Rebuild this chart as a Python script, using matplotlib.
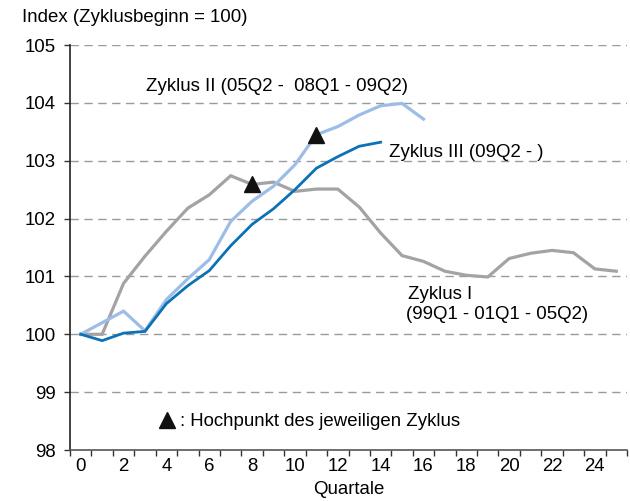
import matplotlib
matplotlib.use("Agg")
import matplotlib.pyplot as plt
import numpy as np

plt.rcParams['font.family'] = ['Liberation Sans', 'DejaVu Sans']
FS = 13.4

quartale = list(range(26))
zyklus1 = [100.0, 100.0, 100.88, 101.35, 101.78, 102.18, 102.41, 102.74, 102.59, 102.63,
           102.47, 102.51, 102.51, 102.20, 101.75, 101.36, 101.26, 101.09, 101.02, 100.99,
           101.31, 101.40, 101.45, 101.41, 101.13, 101.09]
zyklus2 = [100.0, 100.2, 100.40, 100.06, 100.60, 100.96, 101.29, 101.95, 102.30, 102.56,
           102.93, 103.45, 103.59, 103.79, 103.95, 103.99, 103.72]
zyklus3 = [100.0, 99.89, 100.02, 100.05, 100.53, 100.84, 101.10, 101.53, 101.90, 102.17,
           102.50, 102.87, 103.07, 103.25, 103.32]
peak_x = [8, 11]
peak_y = [zyklus1[8], zyklus2[11]]
xtick_labels = [str(v) for v in range(0, 25, 2)]
yticks = [98, 99, 100, 101, 102, 103, 104, 105]

fig = plt.figure(figsize=(6.30, 5.01), dpi=100)
ax = fig.add_axes([70/630, 1-450/501, (627-70)/630, (450-45)/501])

c_gray = '#a3a3a3'
c_light = '#9dbde8'
c_dark = '#0b72b6'

for yv in yticks[1:]:
    ax.axhline(yv, color='#9a9a9a', lw=1.0, ls=(0, (6, 4)), zorder=1)

ax.plot(range(len(zyklus1)), zyklus1, color=c_gray, lw=2.3, zorder=2, solid_joinstyle='miter')
ax.plot(range(len(zyklus2)), zyklus2, color=c_light, lw=2.3, zorder=3, solid_joinstyle='miter')
ax.plot(range(len(zyklus3)), zyklus3, color=c_dark, lw=2.0, zorder=4, solid_joinstyle='miter')
ax.plot(peak_x, peak_y, ls='none', marker='^', ms=11, color='#111111', zorder=5)

ax.set_xlim(-0.5, 25.5)
ax.set_ylim(98, 105)
ax.set_yticks(yticks)
ax.set_yticklabels([str(v) for v in yticks], fontsize=FS)
ax.set_xticks(np.arange(-0.5, 26, 1.0))
ax.set_xticklabels([])
ax.set_xticks(range(0, 25, 2), minor=True)
ax.set_xticklabels(xtick_labels, minor=True, fontsize=FS)
ax.tick_params(axis='x', which='major', length=4, width=1, color='#333333', direction='out')
ax.tick_params(axis='x', which='minor', length=0, pad=6)
ax.tick_params(axis='y', length=4, width=1, color='#333333', pad=6)

for s in ['top', 'right']:
    ax.spines[s].set_visible(False)
ax.spines['left'].set_color('#222222')
ax.spines['bottom'].set_color('#555555')
ax.spines['left'].set_linewidth(1.2)
ax.spines['bottom'].set_linewidth(1.2)

ax.set_xlabel('Quartale', fontsize=FS, labelpad=4)

fig.text(22/630, 1-17/501, 'Index (Zyklusbeginn = 100)', fontsize=FS, va='center', ha='left')

ax.text(3.05, 104.29, 'Zyklus II (05Q2 -  08Q1 - 09Q2)', fontsize=FS, va='center', ha='left')
ax.text(14.4, 103.14, 'Zyklus III (09Q2 - )', fontsize=FS, va='center', ha='left')
ax.text(15.3, 100.68, 'Zyklus I', fontsize=FS, va='center', ha='left')
ax.text(15.2, 100.35, '(99Q1 - 01Q1 - 05Q2)', fontsize=FS, va='center', ha='left')
ax.plot([4.03], [98.52], ls='none', marker='^', ms=11, color='#111111', clip_on=False)
ax.text(4.62, 98.5, ': Hochpunkt des jeweiligen Zyklus', fontsize=FS, va='center', ha='left')

fig.savefig('out.png', dpi=100)
